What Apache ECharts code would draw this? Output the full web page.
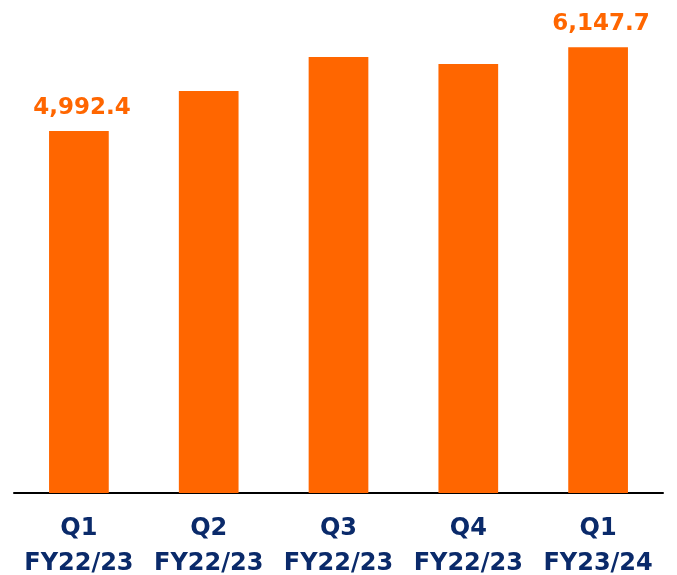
<!DOCTYPE html>
<html><head><meta charset="utf-8">
<script src="https://cdn.jsdelivr.net/npm/echarts@6/dist/echarts.min.js"></script>
<style>html,body{margin:0;padding:0;background:#fff}#c{width:677px;height:575px}</style>
</head><body><div id="c"></div>
<script>
const categories = ['Q1\nFY22/23','Q2\nFY22/23','Q3\nFY22/23','Q4\nFY22/23','Q1\nFY23/24'];
const values = [4992.4, 5544, 6013, 5916, 6147.7];
const labeledIdx = [0, 4];

const chart = echarts.init(document.getElementById('c'));
chart.setOption({
  animation: false,
  grid: {left: 14, right: 14, top: 0, bottom: 82, outerBoundsMode: 'none', containLabel: false},
  xAxis: {
    type: 'category', data: categories,
    axisLine: {lineStyle: {color: '#000', width: 2}},
    axisTick: {show: false},
    axisLabel: {color: '#0A2A6A', fontFamily: 'DejaVu Sans', fontWeight: 'bold', fontSize: 24, lineHeight: 35, margin: 18, interval: 0}
  },
  yAxis: {type: 'value', min: 0, max: 6800, show: false, splitLine: {show: false}},
  series: [{
    type: 'bar', barWidth: '46%',
    data: values.map((v, i) => ({
      value: v,
      label: {show: labeledIdx.includes(i)}
    })),
    itemStyle: {color: '#FF6600'},
    label: {
      position: 'top', distance: 12, offset: [3, 0], color: '#FF6600', fontFamily: 'DejaVu Sans', fontWeight: 'bold', fontSize: 23,
      formatter: p => p.value.toLocaleString('en-US', {minimumFractionDigits: 1, maximumFractionDigits: 1})
    }
  }]
});
</script></body></html>
